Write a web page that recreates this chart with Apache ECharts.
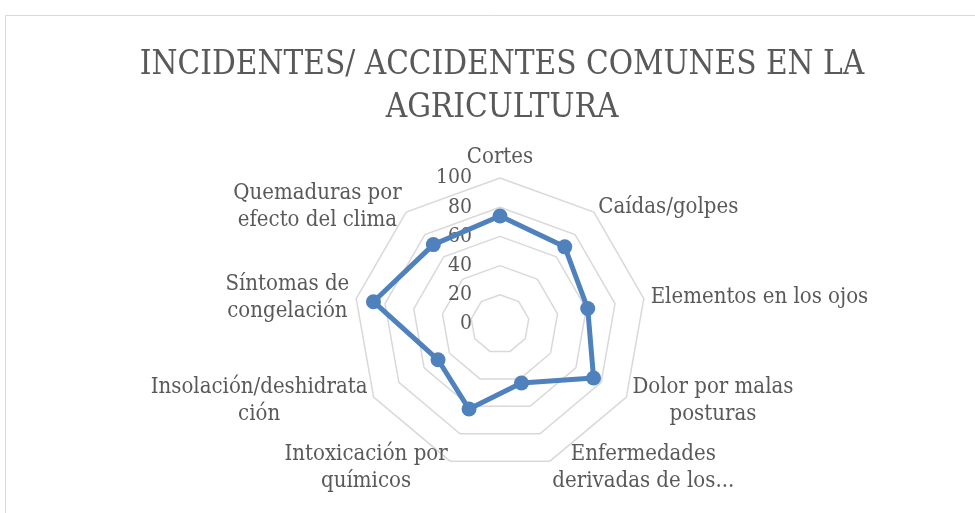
<!DOCTYPE html>
<html>
<head>
<meta charset="utf-8">
<script src="https://cdn.jsdelivr.net/npm/echarts@6/dist/echarts.min.js"></script>
<style>html,body{margin:0;padding:0;background:#fff;}#c{width:975px;height:513px;}</style>
</head>
<body>
<div id="c"></div>
<script>
// Categories and values in clockwise order starting from the top
const categories = [
  "Cortes",
  "Caídas/golpes",
  "Elementos en los ojos",
  "Dolor por malas\nposturas",
  "Enfermedades\nderivadas de los...",
  "Intoxicación por\nquímicos",
  "Insolación/deshidrata\nción",
  "Síntomas de\ncongelación",
  "Quemaduras por\nefecto del clima"
];
const values = [74, 69, 61, 74, 43, 62, 49, 88, 71];
const tickMin = 0, tickMax = 100, tickStep = 20;
const titleText = "INCIDENTES/ ACCIDENTES COMUNES EN LA\nAGRICULTURA";

// ECharts radar runs counter-clockwise: reorder to draw clockwise
const ccw = arr => [arr[0]].concat(arr.slice(1).reverse());

const serif = "'DejaVu Serif Condensed', 'Liberation Serif', serif";
const chart = echarts.init(document.getElementById('c'), null, {renderer: 'canvas'});
const center = [500, 324];
const radius = 146;
chart.setOption({
  backgroundColor: '#fff',
  animation: false,
  graphic: [{
    type: 'rect', shape: {x: 5.5, y: 15.5, width: 1000, height: 600},
    style: {fill: 'none', stroke: '#d9d9d9', lineWidth: 1}, silent: true, z: -10
  }],
  title: {
    text: titleText, left: 497, textAlign: 'center', top: 39,
    textStyle: {fontFamily: serif, fontSize: 33, fontWeight: 'normal', color: '#595959', lineHeight: 43}
  },
  radar: {
    center: center, radius: radius, startAngle: 90, splitNumber: 5, shape: 'polygon',
    indicator: ccw(categories).map(n => ({name: n, min: tickMin, max: tickMax})),
    axisName: {
      color: '#595959', fontFamily: serif, fontSize: 22, lineHeight: 27,
      formatter: name => name.split('\n').map(l => '{c|' + l + '}').join('\n'),
      rich: {c: {align: 'center', color: '#595959', fontFamily: serif, fontSize: 22, lineHeight: 27}}
    },
    nameGap: 7,
    axisLine: {show: false},
    axisTick: {show: false},
    splitArea: {show: false},
    splitLine: {lineStyle: {color: '#d9d9d9', width: 1.5}}
  },
  polar: {center: center, radius: radius},
  angleAxis: {type: 'value', startAngle: 90, min: 0, max: 360, show: false},
  radiusAxis: {
    type: 'value', min: tickMin, max: tickMax, interval: tickStep,
    axisLine: {show: false}, axisTick: {show: false}, splitLine: {show: false},
    axisLabel: {show: true, margin: 28, color: '#595959', fontFamily: serif, fontSize: 21}
  },
  series: [{
    type: 'radar',
    data: [{value: ccw(values)}],
    symbol: 'circle', symbolSize: 15,
    lineStyle: {color: '#4f81bd', width: 5},
    itemStyle: {color: '#4f81bd'}
  }]
});
</script>
</body>
</html>
